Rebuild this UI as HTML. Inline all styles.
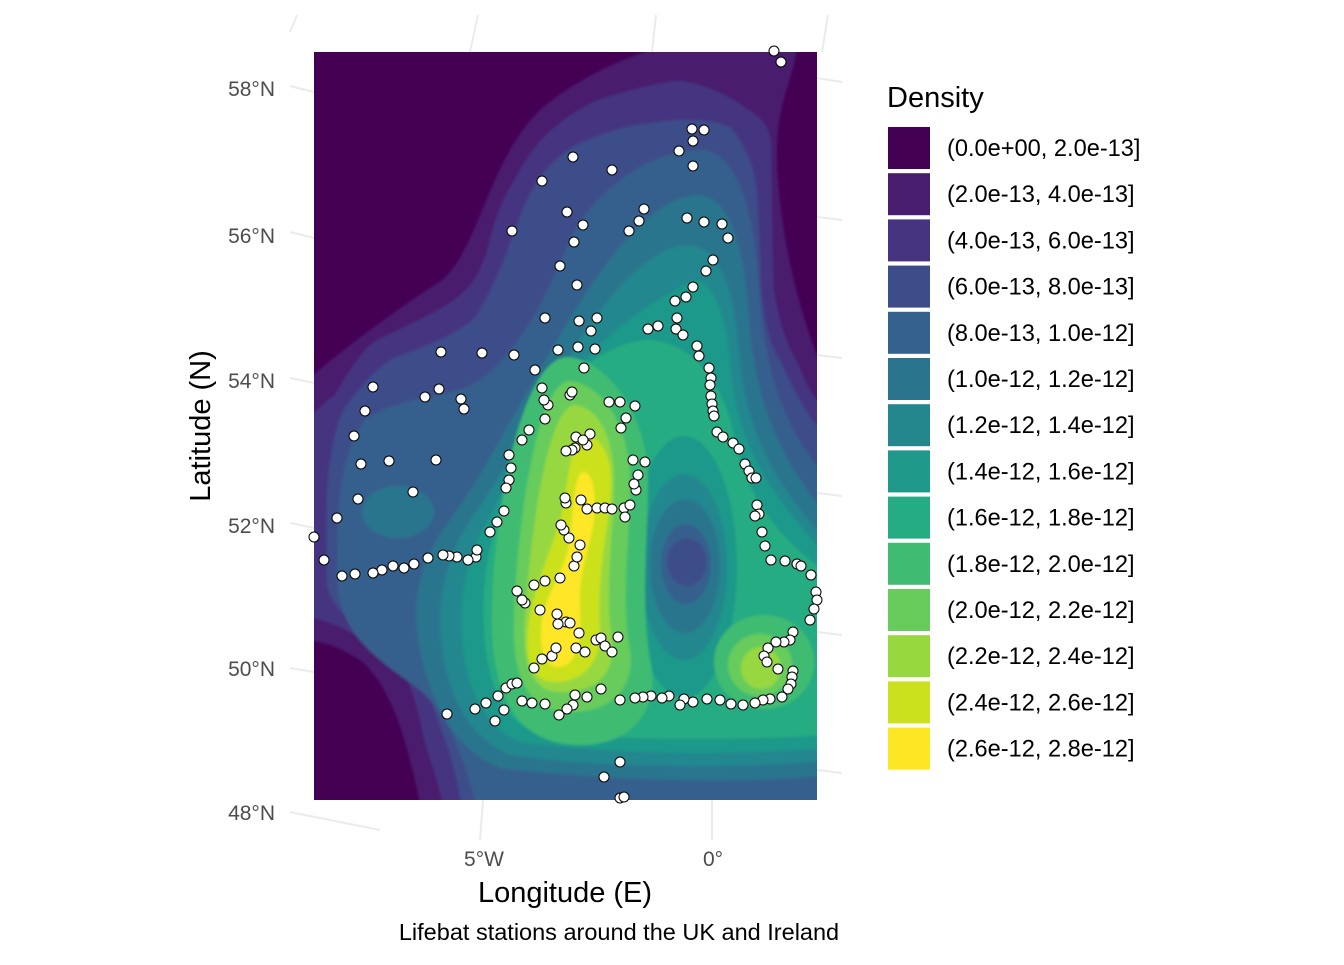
<!DOCTYPE html>
<html><head><meta charset="utf-8"><style>
body{margin:0;background:#fff;width:1344px;height:960px;overflow:hidden;font-family:"Liberation Sans",sans-serif}
</style></head><body>
<svg width="1344" height="960" xmlns="http://www.w3.org/2000/svg" font-family="Liberation Sans, sans-serif">
<defs>
<clipPath id="pc"><rect x="314" y="52" width="503" height="748"/></clipPath>
<filter id="bl" x="-10%" y="-10%" width="120%" height="120%"><feGaussianBlur stdDeviation="1.2"/></filter>
</defs>
<g stroke="#ebebeb" stroke-width="2" fill="none">
<line x1="290" y1="32" x2="297" y2="15"/><line x1="470" y1="52" x2="478" y2="15"/><line x1="652" y1="52" x2="656" y2="15"/><line x1="822" y1="52" x2="828" y2="15"/>
<line x1="290" y1="86" x2="314" y2="92"/><line x1="290" y1="232" x2="314" y2="238"/><line x1="290" y1="378" x2="314" y2="383"/><line x1="290" y1="523" x2="314" y2="528"/><line x1="290" y1="668" x2="314" y2="672"/><line x1="290" y1="812" x2="380" y2="830"/>
<line x1="817" y1="78" x2="842" y2="82"/><line x1="817" y1="217" x2="842" y2="220"/><line x1="817" y1="355" x2="842" y2="358"/><line x1="817" y1="493" x2="842" y2="496"/><line x1="817" y1="632" x2="842" y2="635"/><line x1="817" y1="770" x2="842" y2="773"/>
<line x1="483" y1="800" x2="480" y2="840"/><line x1="712" y1="800" x2="712" y2="840"/>
</g>
<g clip-path="url(#pc)">
<rect x="314" y="52" width="503" height="748" fill="#440154"/>
<g filter="url(#bl)">
<path fill="#481C6E" d="M796,40 L796,52 C794,76 778,100 777,147 C776,200 790,300 830,386 L830,820 L424,820 C410,760 400,700 364,663 C345,650 330,642 300,639 L300,386 C330,360 380,320 441,281 C480,250 490,150 547,104 C590,70 640,52 681,40 Z"/>
<path fill="#453581" d="M747,109 C765,120 771,130 771,147 C772,200 772,260 774,290 C780,330 790,350 797,362 C805,380 812,400 830,415 L830,820 L447,820 C438,780 430,760 424,739 C418,705 410,685 404,672 C390,650 375,642 364,639 C345,630 330,620 300,615 L300,424 C320,410 325,400 334,396 C350,370 365,345 381,338 C420,320 440,310 454,300 C475,285 480,270 487,252 C495,215 505,195 514,181 C530,150 545,135 554,128 C575,110 595,100 614,95 C640,88 660,82 681,81 C710,85 735,100 747,109 Z"/>
<path fill="#3D4D8A" d="M731,128 C748,150 755,170 757,195 C760,240 760,270 761,290 C765,330 772,350 781,362 C795,395 810,420 830,443 L830,820 L464,820 C458,780 450,750 441,729 C430,695 425,680 414,667 C390,645 370,635 357,625 C330,605 327,590 327,577 C326,520 326,480 331,457 C335,430 340,415 347,405 C365,380 380,365 397,357 C430,345 455,335 474,319 C490,295 500,270 507,252 C520,215 530,190 541,176 C555,158 570,148 581,143 C610,130 630,125 647,124 C680,118 710,118 731,128 Z"/>
<path fill="#34618D" d="M700,150 C740,150 755,220 760,300 C765,380 790,440 830,480 L830,820 L480,820 C470,780 455,720 420,690 C380,660 345,640 338,590 C335,520 340,450 365,420 C400,395 450,400 480,380 C520,350 545,300 570,240 C600,180 660,150 700,150 Z"/>
<ellipse cx="398" cy="512" rx="36" ry="26" fill="#2B748E"/>
<path fill="#2B748E" d="M700,195 C735,200 745,260 750,330 C758,420 790,470 830,520 L830,775 C740,785 600,780 500,768 C455,750 430,700 420,650 C410,600 420,560 450,520 C480,480 510,420 540,370 C580,300 640,195 700,195 Z"/>
<path fill="#24878E" d="M690,245 C725,250 735,300 740,360 C748,440 780,490 830,545 L830,760 C740,770 600,768 510,755 C470,738 450,700 442,650 C436,600 445,560 470,520 C500,480 525,430 555,380 C590,320 640,245 690,245 Z"/>
<path fill="#1F998A" d="M695,280 C720,285 728,330 732,380 C740,450 775,500 830,560 L830,748 C740,755 610,755 520,742 C485,728 468,690 463,650 C458,600 465,560 485,525 C510,480 530,430 560,390 C590,345 650,300 695,280 Z"/>
<path fill="#25AC82" d="M650,340 C700,345 725,390 735,440 C748,500 780,540 830,575 L830,735 C740,740 620,742 530,730 C500,715 488,680 485,640 C480,590 488,550 500,510 C515,460 540,400 580,370 C605,350 630,340 650,340 Z"/>
<ellipse cx="684" cy="567" rx="53" ry="131" fill="#1F998A"/>
<ellipse cx="684" cy="567" rx="43" ry="93" fill="#24878E"/>
<ellipse cx="685" cy="566" rx="35" ry="67" fill="#2B748E"/>
<ellipse cx="686" cy="564" rx="25" ry="40" fill="#34618D"/>
<ellipse cx="687" cy="562" rx="20" ry="24" fill="#3D4D8A"/>
<path fill="#40BC72" d="M567,357 C610,360 648,420 648,480 C648,540 640,600 650,660 C660,700 640,745 580,745 C520,745 492,700 492,620 C492,520 520,360 567,357 Z"/>
<path fill="#67CC5C" d="M570,381 C605,385 630,430 630,480 C630,540 620,600 630,650 C635,690 610,712 570,712 C530,712 512,680 514,620 C516,540 535,381 570,381 Z"/>
<path fill="#97D83F" d="M575,405 C600,408 614,440 614,480 C614,530 604,590 612,640 C616,680 590,692 560,692 C530,692 522,660 525,620 C528,560 545,405 575,405 Z"/>
<path fill="#CBE11E" d="M585,434 C600,436 611,455 611,480 C611,520 596,570 600,630 C602,665 580,682 555,682 C532,682 525,660 528,630 C532,590 548,560 560,520 C570,480 570,434 585,434 Z"/>
<path fill="#FDE725" d="M584,472 C594,474 596,495 594,520 C590,550 578,570 580,610 C582,645 575,667 558,667 C545,667 540,650 541,630 C542,600 560,580 568,550 C574,520 572,472 584,472 Z"/>
<ellipse cx="764" cy="662" rx="50" ry="47" fill="#40BC72"/>
<ellipse cx="760" cy="665" rx="32" ry="31" fill="#67CC5C"/>
<ellipse cx="761" cy="668" rx="20" ry="21" fill="#97D83F"/>
</g>
</g>
<g id="pts2" fill="#fff" stroke="#000" stroke-width="1"></g>
<g font-size="21" fill="#4d4d4d" text-anchor="end">
<text x="275" y="96">58°N</text><text x="275" y="243">56°N</text><text x="275" y="388">54°N</text><text x="275" y="533">52°N</text><text x="275" y="676">50°N</text><text x="275" y="820">48°N</text>
</g>
<g font-size="21" fill="#4d4d4d" text-anchor="middle"><text x="484" y="866">5°W</text><text x="713" y="866">0°</text></g>
<text x="565" y="902" font-size="29" text-anchor="middle">Longitude (E)</text>
<text transform="translate(210,426) rotate(-90)" font-size="29" text-anchor="middle">Latitude (N)</text>
<text x="619" y="940" font-size="23.5" text-anchor="middle">Lifebat stations around the UK and Ireland</text>
<text x="887" y="107" font-size="29">Density</text>
<g id="leg" font-size="23.6"></g>
</svg>
<script>
var cols=["#440154","#481C6E","#453581","#3D4D8A","#34618D","#2B748E","#24878E","#1F998A","#25AC82","#40BC72","#67CC5C","#97D83F","#CBE11E","#FDE725"];
var labs=["(0.0e+00, 2.0e-13]","(2.0e-13, 4.0e-13]","(4.0e-13, 6.0e-13]","(6.0e-13, 8.0e-13]","(8.0e-13, 1.0e-12]","(1.0e-12, 1.2e-12]","(1.2e-12, 1.4e-12]","(1.4e-12, 1.6e-12]","(1.6e-12, 1.8e-12]","(1.8e-12, 2.0e-12]","(2.0e-12, 2.2e-12]","(2.2e-12, 2.4e-12]","(2.4e-12, 2.6e-12]","(2.6e-12, 2.8e-12]"];
var leg=document.getElementById("leg"),h="";
for(var i=0;i<14;i++){var y=127+i*46.2;h+='<rect x="888" y="'+y+'" width="42" height="42" fill="'+cols[i]+'"/><text x="947" y="'+(y+29)+'">'+labs[i]+'</text>';}
leg.innerHTML=h;
var P=[774,51,781,62,692,129,704,130,693,141,679,151,693,166,573,157,612,170,542,181,567,212,583,225,644,209,639,221,629,231,687,218,704,222,722,224,728,238,574,242,512,231,713,260,706,271,693,287,686,297,675,301,577,285,560,266,545,318,579,321,597,318,591,331,648,329,658,326,677,318,676,329,683,335,697,346,699,356,709,368,711,378,710,385,711,396,712,404,713,411,714,416,717,432,723,437,733,443,739,449,745,464,749,471,752,478,756,478,757,505,759,514,755,516,762,532,765,546,771,560,785,561,797,564,801,566,811,575,816,592,817,600,814,609,810,620,793,632,790,640,784,642,776,642,768,648,764,656,767,662,778,669,793,671,792,677,791,684,788,689,782,697,770,699,763,700,755,703,743,705,731,704,720,700,707,699,693,702,684,699,680,705,669,696,662,698,651,696,643,697,635,698,620,700,601,689,587,697,575,695,573,705,567,709,559,715,545,704,532,703,522,701,504,710,495,721,486,703,475,709,498,696,506,688,512,684,517,683,534,668,542,659,552,656,556,648,576,648,585,652,596,640,601,638,605,646,612,652,618,637,566,622,570,623,557,614,558,624,579,633,540,610,525,603,517,591,522,600,534,585,545,581,560,578,574,566,577,557,580,545,569,538,564,530,561,525,566,503,565,498,581,500,587,509,597,508,605,508,612,509,624,508,630,505,625,517,636,490,638,475,633,460,645,462,634,484,609,402,620,402,635,406,626,418,621,428,590,434,587,445,576,437,575,448,583,440,572,450,566,451,570,395,572,392,548,405,544,400,542,388,535,370,558,350,578,347,595,349,584,368,545,419,529,430,522,440,509,455,511,468,509,480,506,488,504,511,497,522,490,532,476,557,477,550,468,560,457,557,449,556,443,555,428,558,414,564,404,568,393,566,382,570,373,573,355,574,342,576,324,560,314,537,337,518,358,499,413,492,436,460,389,461,361,464,354,436,365,411,373,387,425,397,439,389,461,399,464,409,441,352,482,353,514,355,447,714,620,762,604,777,620,798,624,797];
var g=document.getElementById("pts2"),s="";
for(var i=0;i<P.length;i+=2)s+='<circle cx="'+P[i]+'" cy="'+P[i+1]+'" r="5"/>';
g.innerHTML=s;
</script>
</body></html>
